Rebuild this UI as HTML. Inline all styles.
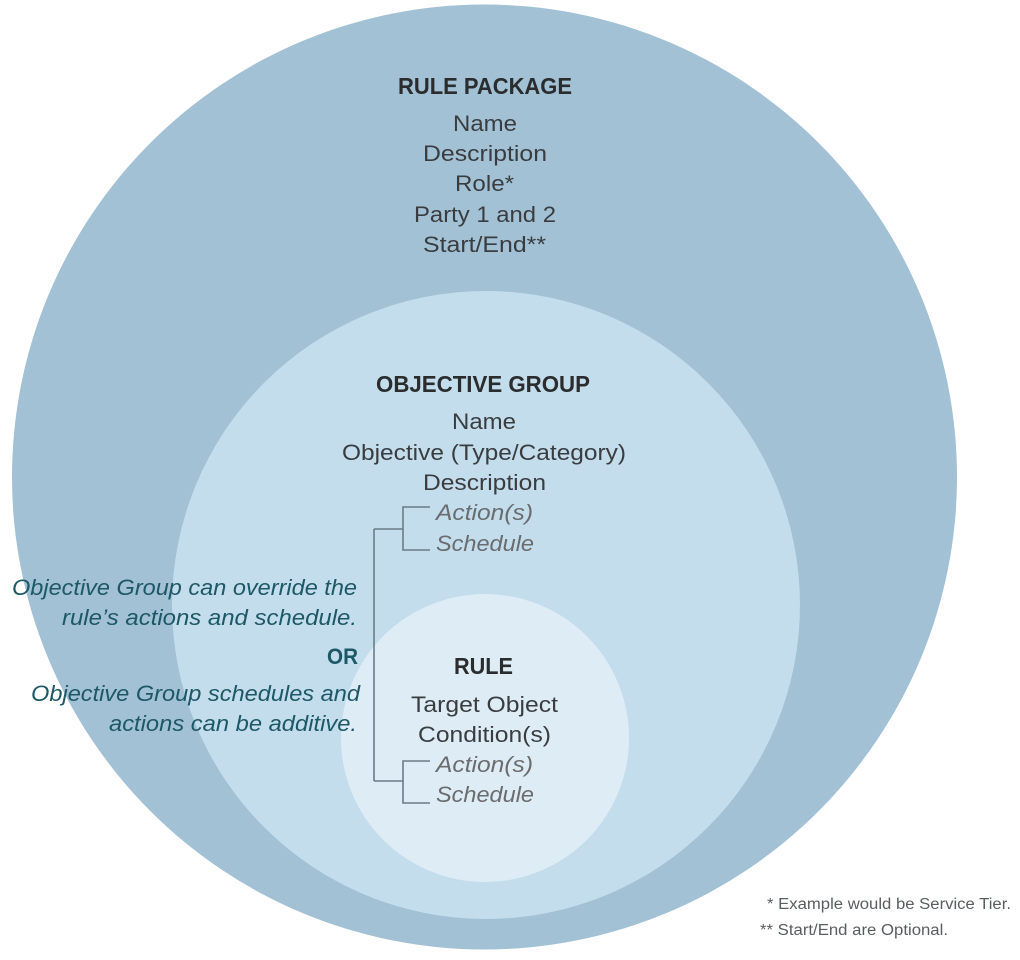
<!DOCTYPE html>
<html><head><meta charset="utf-8"><style>
html,body{margin:0;padding:0;background:#fff;}
svg{display:block;font-family:"Liberation Sans",sans-serif;}
</style></head><body>
<svg width="1020" height="960" viewBox="0 0 1020 960">
<rect width="1020" height="960" fill="#fff"/>
<circle cx="484.5" cy="477" r="472.5" fill="#a2c1d5"/>
<circle cx="486" cy="605" r="314" fill="#c3ddec"/>
<circle cx="485" cy="738" r="144" fill="#deecf6"/>
<g fill="none" stroke="#6b7c86" stroke-width="1.6">
<path d="M374 529 V781 M374 529 H403 M430 507 H403 V550 H430 M374 781 H403 M430 761 H403 V803 H430"/>
</g>
<g fill="#3a3d40" font-size="22">
<text x="398" y="94" font-weight="bold" font-size="23" fill="#2a2c2e" textLength="174" lengthAdjust="spacingAndGlyphs">RULE PACKAGE</text>
<text x="453" y="131" textLength="64" lengthAdjust="spacingAndGlyphs">Name</text>
<text x="423" y="161" textLength="124" lengthAdjust="spacingAndGlyphs">Description</text>
<text x="455" y="191" textLength="59" lengthAdjust="spacingAndGlyphs">Role*</text>
<text x="414" y="222" textLength="142" lengthAdjust="spacingAndGlyphs">Party 1 and 2</text>
<text x="423" y="252" textLength="123" lengthAdjust="spacingAndGlyphs">Start/End**</text>
<text x="376" y="392" font-weight="bold" font-size="23" fill="#2a2c2e" textLength="214" lengthAdjust="spacingAndGlyphs">OBJECTIVE GROUP</text>
<text x="452" y="429" textLength="64" lengthAdjust="spacingAndGlyphs">Name</text>
<text x="342" y="460" textLength="284" lengthAdjust="spacingAndGlyphs">Objective (Type/Category)</text>
<text x="423" y="490" textLength="123" lengthAdjust="spacingAndGlyphs">Description</text>
<text x="454" y="674" font-weight="bold" font-size="23" fill="#2a2c2e" textLength="59" lengthAdjust="spacingAndGlyphs">RULE</text>
<text x="411" y="712" textLength="147" lengthAdjust="spacingAndGlyphs">Target Object</text>
<text x="418" y="742" textLength="133" lengthAdjust="spacingAndGlyphs">Condition(s)</text>
</g>
<g fill="#6a6c6e" font-size="22" font-style="italic">
<text x="436" y="520" textLength="97" lengthAdjust="spacingAndGlyphs">Action(s)</text>
<text x="436" y="551" textLength="98" lengthAdjust="spacingAndGlyphs">Schedule</text>
<text x="436" y="772" textLength="97" lengthAdjust="spacingAndGlyphs">Action(s)</text>
<text x="436" y="802" textLength="98" lengthAdjust="spacingAndGlyphs">Schedule</text>
</g>
<g fill="#1d5866" font-size="22" font-style="italic">
<text x="12" y="595" textLength="345" lengthAdjust="spacingAndGlyphs">Objective Group can override the</text>
<text x="62" y="625" textLength="295" lengthAdjust="spacingAndGlyphs">rule’s actions and schedule.</text>
<text x="327" y="664" font-style="normal" font-weight="bold" textLength="31" lengthAdjust="spacingAndGlyphs">OR</text>
<text x="31" y="701" textLength="329" lengthAdjust="spacingAndGlyphs">Objective Group schedules and</text>
<text x="109" y="731" textLength="248" lengthAdjust="spacingAndGlyphs">actions can be additive.</text>
</g>
<g fill="#5a5d60" font-size="15.5">
<text x="767" y="909" textLength="244" lengthAdjust="spacingAndGlyphs">* Example would be Service Tier.</text>
<text x="760" y="935" textLength="188" lengthAdjust="spacingAndGlyphs">** Start/End are Optional.</text>
</g>
</svg>
</body></html>
